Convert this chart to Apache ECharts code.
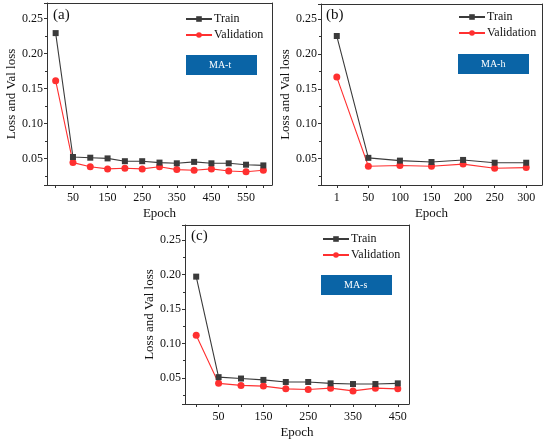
<!DOCTYPE html>
<html>
<head>
<meta charset="utf-8">
<script src="https://cdn.jsdelivr.net/npm/echarts@6/dist/echarts.min.js"></script>
<style>html,body{margin:0;padding:0;background:#fff;}#c{width:550px;height:442px;}</style>
</head>
<body>
<div id="c"></div>
<script>
// ---- data ----
const epochsA = ['1','50','100','150','200','250','300','350','400','450','500','550','600'];
const trainA = [0.229,0.052,0.051,0.050,0.046,0.046,0.044,0.043,0.045,0.043,0.043,0.041,0.040];
const valA   = [0.161,0.044,0.038,0.035,0.036,0.035,0.038,0.034,0.033,0.035,0.032,0.031,0.033];

const epochsB = ['1','50','100','150','200','250','300'];
const trainB = [0.226,0.051,0.047,0.045,0.048,0.044,0.044];
const valB   = [0.167,0.039,0.040,0.039,0.042,0.036,0.037];

const epochsC = ['1','50','100','150','200','250','300','350','400','450'];
const trainC = [0.197,0.051,0.049,0.047,0.044,0.044,0.042,0.041,0.041,0.042];
const valC   = [0.112,0.042,0.039,0.038,0.034,0.033,0.035,0.031,0.035,0.034];

const panelLabels = ['(a)','(b)','(c)'];
const modelLabels = ['MA-t','MA-h','MA-s'];
const seriesNames = ['Train','Validation'];

// ---- styling ----
const FONT = 'Liberation Serif';
const AX = '#333';
const TRAIN_C = '#3b3b3b';
const VAL_C = '#ff3030';
const BOX_C = '#0a64a6';

const grids = [
  {left:47, top:3, width:225, height:182},
  {left:321, top:4, width:221, height:181},
  {left:185, top:225, width:224, height:179}
];
const cats = [epochsA, epochsB, epochsC];
const trains = [trainA, trainB, trainC];
const vals = [valA, valB, valC];
const labelEveryOther = [true, false, true];

const xAxes = cats.map((c,i)=>({
  type:'category', gridIndex:i, data:c, boundaryGap:true,
  name:'Epoch', nameLocation:'middle', nameGap:22,
  nameTextStyle:{fontFamily:FONT, fontSize:13, color:'#111'},
  axisLine:{show:true, lineStyle:{color:AX, width:1}},
  axisTick:{show:true, alignWithLabel:true, interval:0, length:3, lineStyle:{color:AX}},
  axisLabel:{fontFamily:FONT, fontSize:12, color:'#111', margin:7,
    interval: labelEveryOther[i] ? (idx)=> idx%2===1 : 0},
  splitLine:{show:false}
}));
const xTop = cats.map((c,i)=>({
  type:'category', gridIndex:i, data:c, position:'top',
  axisLine:{show:true, lineStyle:{color:AX, width:1}},
  axisTick:{show:false}, axisLabel:{show:false}, splitLine:{show:false}
}));

const yAxes = [0,1,2].map(i=>({
  type:'value', gridIndex:i, min:0.012, max:0.272, splitNumber:5,
  name:'Loss and Val loss', nameLocation:'middle', nameGap:29,
  nameTextStyle:{fontFamily:FONT, fontSize:13, color:'#111'},
  axisLine:{show:true, lineStyle:{color:AX, width:1}},
  axisTick:{show:true, length:3, lineStyle:{color:AX}},
  minorTick:{show:true, splitNumber:2, length:2, lineStyle:{color:AX}},
  axisLabel:{fontFamily:FONT, fontSize:12, color:'#111', margin:4,
    showMinLabel:false, showMaxLabel:false,
    formatter:(v)=>{ const k=Math.round(v/0.05); return Math.abs(v-k*0.05)<1e-6 ? v.toFixed(2) : ''; }},
  splitLine:{show:false}
}));
const yRight = [0,1,2].map(i=>({
  type:'value', gridIndex:i, min:0.012, max:0.272, position:'right',
  axisLine:{show:true, lineStyle:{color:AX, width:1}},
  axisTick:{show:false}, axisLabel:{show:false}, splitLine:{show:false}
}));

const series = [];
[0,1,2].forEach(i=>{
  series.push({name:seriesNames[0], type:'line', xAxisIndex:i, yAxisIndex:i, data:trains[i],
    symbol:'rect', symbolSize:6, itemStyle:{color:TRAIN_C}, lineStyle:{color:TRAIN_C, width:1.1}, z:3});
  series.push({name:seriesNames[1], type:'line', xAxisIndex:i, yAxisIndex:i, data:vals[i],
    symbol:'circle', symbolSize:7, itemStyle:{color:VAL_C}, lineStyle:{color:VAL_C, width:1.1}, z:2});
});

const legendPos = [{left:185, top:13},{left:458, top:11},{left:322, top:233}];
const legends = legendPos.map(p=>({
  data:seriesNames, orient:'vertical', left:p.left, top:p.top, padding:0,
  itemWidth:26, itemHeight:7, itemGap:4,
  textStyle:{fontFamily:FONT, fontSize:12, color:'#111', padding:[0,0,0,-3]},
  selectedMode:false
}));

const panelPos = [{left:53, top:8},{left:326, top:8},{left:191, top:229}];
const boxPos = [{left:186, top:55},{left:458, top:54},{left:321, top:275}];
const titles = [];
[0,1,2].forEach(i=>{
  titles.push({text:panelLabels[i], left:panelPos[i].left, top:panelPos[i].top, padding:0,
    textStyle:{fontFamily:FONT, fontSize:15, fontWeight:'normal', color:'#111'}});
  titles.push({text:modelLabels[i], left:boxPos[i].left, top:boxPos[i].top,
    backgroundColor:BOX_C, padding:[4,23,4,23],
    textStyle:{fontFamily:FONT, fontSize:10, fontWeight:'normal', color:'#fff', width:25, align:'center', lineHeight:12}});
});

const chart = echarts.init(document.getElementById('c'), null, {renderer:'canvas'});
chart.setOption({
  animation:false,
  backgroundColor:'#fff',
  title:titles,
  legend:legends,
  grid:grids,
  xAxis:[...xAxes, ...xTop],
  yAxis:[...yAxes, ...yRight],
  series:series
});
</script>
</body>
</html>
